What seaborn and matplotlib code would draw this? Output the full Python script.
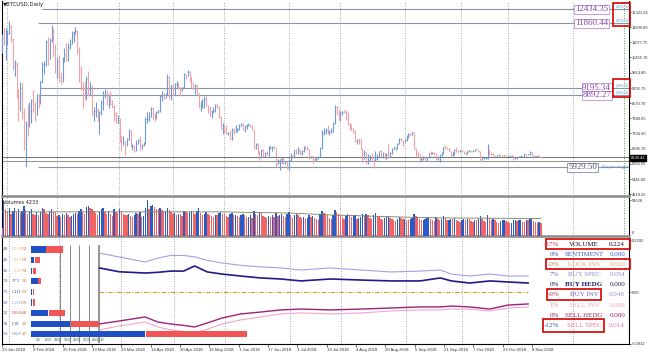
import numpy as np
import matplotlib
matplotlib.use("Agg")
import matplotlib.pyplot as plt
import seaborn as sns
from matplotlib.patches import Rectangle

# ---------------- data (BTCUSD daily, 23 Jan 2018 .. 13 Nov 2018) ----------------
first_open = 10850
close = [10900, 11250, 11100, 11100, 11450, 11750, 11200, 10100, 10200,
         9100, 8850, 9200, 8200, 6950, 7700, 7600, 8250, 8700, 8550, 8100, 8900, 8550, 9500, 10200, 10200, 11100, 10400, 11150, 11400, 10700, 9900, 10300, 9700, 9600, 10300, 10600, 10350,
         10900, 11000, 11450, 11500, 11550, 10750, 9950, 9300, 9200, 8800, 9550, 9150, 9150, 8200, 8250, 8300, 7900, 8200, 8600, 8900, 8900, 8700, 8900, 8550, 8450, 8150, 7800, 7950, 7100, 6850, 6950,
         6850, 7100, 7450, 6800, 6800, 6600, 6900, 7050, 6800, 6850, 6950, 7900, 7900, 8000, 8350, 8050, 7900, 8200, 8300, 8850, 8900, 8800, 8950, 9650, 8850, 9300, 8950, 9350, 9400, 9250,
         9100, 9250, 9750, 9700, 9850, 9650, 9350, 9200, 9300, 9000, 8450, 8500, 8700, 8700, 8500, 8350, 8100, 8250, 8250, 8500, 8400, 8000, 7550, 7600, 7480, 7350, 7350, 7100, 7470, 7400, 7500,
         7520, 7640, 7720, 7500, 7630, 7650, 7690, 7620, 7500, 6780, 6900, 6550, 6300, 6650, 6400, 6500, 6450, 6720, 6750, 6770, 6720, 6080, 6160, 6250, 6250, 6090, 6150, 5900, 6220, 6390,
         6360, 6620, 6500, 6600, 6530, 6600, 6760, 6700, 6670, 6300, 6390, 6250, 6240, 6270, 6360, 6740, 7320, 7380, 7470, 7350, 7400, 7400, 7720, 8400, 8170, 7940, 8200, 8220, 8210, 8180, 7730,
         7620, 7540, 7420, 7010, 7050, 6950, 6720, 6300, 6550, 6150, 6240, 6320, 6260, 6190, 6270, 6310, 6580, 6390, 6500, 6260, 6480, 6370, 6530, 6690, 6740, 6710, 6900, 7090, 7050, 6980, 7030,
         7200, 7300, 7270, 7370, 6700, 6530, 6420, 6200, 6250, 6320, 6290, 6330, 6500, 6490, 6530, 6500, 6250, 6350, 6400, 6500, 6770, 6720, 6700, 6600, 6430, 6460, 6650, 6640, 6600, 6630,
         6590, 6530, 6480, 6580, 6630, 6590, 6600, 6670, 6640, 6590, 6260, 6290, 6300, 6300, 6650, 6490, 6480, 6420, 6400, 6420, 6420, 6410, 6400, 6420, 6400, 6400, 6410, 6410, 6280, 6290, 6340,
         6380, 6400, 6370, 6480, 6430, 6460, 6540, 6420, 6350, 6380, 6400, 6370, 6330]
high = [11350, 11400, 11650, 11650, 11600, 11950, 11800, 11250, 10350,
        10250, 9150, 9450, 9400, 8350, 7850, 8550, 8600, 8750, 9100, 8600, 8950, 8950, 9500, 10250, 10300, 11150, 11300, 11250, 11800, 11650, 11000, 10450, 10550, 9850, 10450, 10850, 11050,
        11050, 11200, 11550, 11550, 11700, 11600, 10900, 10100, 9450, 9500, 9700, 9900, 9450, 9300, 8400, 8600, 8350, 8250, 8700, 9050, 9150, 9100, 8950, 9050, 8700, 8500, 8200, 8100, 7950, 7250, 7200,
        7000, 7150, 7500, 7450, 6900, 6850, 7050, 7100, 7200, 6900, 6950, 8000, 8200, 8200, 8400, 8400, 8150, 8250, 8300, 8900, 9050, 9000, 9000, 9750, 9700, 9300, 9350, 9400, 9500, 9450,
        9250, 9250, 9800, 9750, 9950, 9900, 9650, 9450, 9350, 9350, 9000, 8650, 8750, 8850, 8850, 8500, 8450, 8300, 8400, 8550, 8550, 8450, 8050, 7750, 7650, 7650, 7400, 7450, 7550, 7550, 7650,
        7550, 7700, 7770, 7750, 7660, 7700, 7750, 7700, 7680, 7500, 6920, 6920, 6600, 6700, 6660, 6550, 6590, 6800, 6820, 6800, 6800, 6730, 6250, 6250, 6350, 6300, 6200, 6150, 6270, 6500,
        6430, 6650, 6680, 6770, 6700, 6650, 6800, 6790, 6800, 6680, 6400, 6400, 6330, 6320, 6400, 6750, 7450, 7550, 7550, 7650, 7450, 7550, 7800, 8480, 8450, 8300, 8250, 8250, 8290, 8270, 8200,
        7750, 7720, 7550, 7480, 7080, 7150, 7150, 6730, 6620, 6570, 6480, 6450, 6520, 6270, 6600, 6480, 6600, 6620, 6560, 6520, 6500, 6880, 6550, 6720, 6800, 6780, 6920, 7120, 7150, 7060, 7080,
        7250, 7320, 7340, 7400, 7390, 6720, 6550, 6480, 6370, 6380, 6400, 6350, 6530, 6600, 6560, 6540, 6520, 6380, 6460, 6540, 6780, 6830, 6750, 6720, 6600, 6540, 6680, 6780, 6650, 6650,
        6650, 6600, 6540, 6600, 6650, 6640, 6620, 6700, 6680, 6650, 6600, 6310, 6320, 6350, 6900, 6700, 6500, 6500, 6450, 6430, 6460, 6430, 6420, 6440, 6420, 6420, 6420, 6420, 6420, 6300, 6350,
        6400, 6420, 6400, 6500, 6490, 6480, 6580, 6550, 6430, 6400, 6420, 6420, 6400]
low = [10350, 10650, 10950, 10350, 10950, 11400, 11100, 9950, 9700,
       8800, 7850, 8250, 7900, 6650, 5950, 7200, 7600, 7750, 8200, 7850, 8100, 8350, 8550, 9400, 9750, 10100, 10150, 10400, 11100, 10500, 9800, 9600, 9450, 9350, 9450, 10250, 10300,
       10300, 10800, 11000, 11100, 11400, 10600, 9450, 9100, 8350, 8750, 8700, 8850, 8900, 8050, 7850, 8000, 7850, 7300, 8100, 8300, 8800, 8500, 8350, 8500, 8350, 7850, 7750, 7750, 6950, 6600, 6850,
       6450, 6800, 7050, 6750, 6650, 6550, 6600, 6900, 6650, 6700, 6800, 6900, 7750, 7850, 8000, 7900, 7850, 7900, 8150, 8200, 8650, 8750, 8800, 8900, 8750, 8700, 8900, 8900, 9200, 9150,
       8850, 9050, 9200, 9550, 9700, 9450, 9200, 9150, 8950, 8950, 8350, 8250, 8350, 8350, 8450, 8150, 8050, 7950, 8150, 8200, 8350, 7950, 7450, 7300, 7350, 7300, 7250, 7100, 7050, 7300, 7400,
       7400, 7470, 7630, 7470, 7380, 7500, 7640, 7570, 7480, 6700, 6700, 6480, 6150, 6300, 6380, 6370, 6440, 6400, 6700, 6600, 6700, 5950, 6050, 5800, 6100, 6080, 6050, 5870, 5820, 6200,
       6300, 6300, 6480, 6460, 6450, 6450, 6550, 6680, 6650, 6280, 6300, 6100, 6150, 6200, 6250, 6350, 6680, 7250, 7300, 7300, 7250, 7350, 7380, 7700, 8080, 7880, 7850, 8100, 8150, 7880, 7650,
       7470, 7480, 7320, 6950, 6900, 6880, 6680, 6150, 6250, 6050, 6050, 6220, 6200, 5880, 6180, 6220, 6300, 6350, 6320, 6250, 6250, 6320, 6350, 6480, 6680, 6650, 6700, 6880, 7000, 6820, 6950,
       7020, 7150, 7200, 7250, 6700, 6350, 6380, 6170, 6150, 6240, 6220, 6200, 6320, 6420, 6480, 6430, 6220, 6240, 6130, 6380, 6490, 6690, 6670, 6580, 6350, 6400, 6420, 6570, 6520, 6560,
       6550, 6480, 6430, 6470, 6540, 6560, 6560, 6580, 6620, 6550, 6150, 6220, 6280, 6280, 6280, 6450, 6440, 6380, 6380, 6390, 6400, 6390, 6360, 6390, 6380, 6380, 6390, 6390, 6220, 6260, 6250,
       6330, 6370, 6340, 6330, 6400, 6420, 6450, 6400, 6330, 6340, 6350, 6360, 6320]
volume_k = [38, 13, 58, 44, 40, 46, 36, 42, 47,
            40, 45, 38, 42, 50, 43, 36, 41, 44, 37, 35, 39, 34, 40, 46, 44, 38, 36, 42, 45, 40, 39, 33, 35, 32, 36, 34, 38,
            35, 31, 33, 36, 38, 37, 42, 45, 40, 36, 48, 50, 46, 44, 41, 38, 35, 40, 44, 46, 39, 37, 42, 36, 33, 44, 40, 38, 45, 42, 37,
            35, 34, 37, 33, 32, 35, 38, 36, 40, 31, 33, 47, 60, 44, 49, 52, 48, 45, 44, 46, 43, 39, 41, 47, 43, 40, 36, 38, 35, 37,
            36, 33, 41, 40, 38, 40, 42, 38, 36, 41, 46, 38, 35, 37, 39, 36, 34, 33, 32, 35, 34, 38, 40, 37, 36, 33, 31, 36, 38, 34, 35,
            33, 32, 34, 36, 35, 31, 32, 34, 30, 42, 36, 34, 40, 38, 33, 31, 30, 33, 32, 34, 31, 38, 33, 35, 37, 33, 31, 36, 39, 35,
            30, 34, 36, 35, 32, 30, 31, 29, 30, 34, 31, 33, 30, 28, 27, 36, 42, 38, 36, 34, 30, 29, 35, 43, 39, 37, 35, 31, 29, 33, 36,
            34, 32, 33, 35, 28, 30, 31, 36, 33, 37, 34, 30, 29, 35, 38, 33, 32, 29, 27, 30, 31, 33, 30, 28, 26, 25, 29, 32, 30, 28, 29,
            27, 26, 28, 30, 36, 33, 31, 29, 26, 27, 28, 30, 32, 29, 26, 25, 31, 28, 27, 29, 33, 30, 26, 27, 29, 28, 30, 27, 25, 24,
            26, 28, 27, 29, 28, 25, 24, 27, 26, 28, 33, 29, 25, 24, 34, 30, 27, 28, 26, 24, 22, 25, 26, 27, 25, 24, 21, 22, 26, 27, 25,
            26, 27, 24, 23, 27, 26, 28, 29, 25, 23, 22, 24, 21]
vol_ma_day = [0, 60, 120, 158, 179, 217, 239, 294]
vol_ma_k = [40, 40, 40, 38, 35, 31.5, 30, 29]

date_labels = ["23 Jan 2018", "9 Feb 2018", "25 Feb 2018", "13 Mar 2018", "29 Mar 2018", "14 Apr 2018",
               "30 Apr 2018", "16 May 2018", "1 Jun 2018", "17 Jun 2018", "3 Jul 2018", "19 Jul 2018",
               "4 Aug 2018", "20 Aug 2018", "5 Sep 2018", "21 Sep 2018", "7 Oct 2018", "23 Oct 2018", "8 Nov 2018"]
date_label_day = [0, 17, 33, 49, 65, 81, 97, 113, 129, 145, 161, 177, 193, 209, 225, 241, 257, 273, 289]

price_ticks = [12321.85, 11699.80, 11077.75, 10455.70, 9814.80, 9192.75, 8570.70,
               7948.65, 7326.60, 6685.70, 6063.65, 5441.60, 4819.55]
levels = [12434.35, 11860.44, 9195.34, 8892.27, 5929.50]
current_price = 6330.42
second_line = 6205.0

ind_day = [53, 64, 78, 85, 92, 99, 105, 112, 120, 130, 141, 152, 163, 179, 196, 212, 228, 239, 245, 255, 266, 276, 287]
buy_spec = [0.222, 0.199, 0.171, 0.193, 0.208, 0.208, 0.200, 0.180, 0.165, 0.152, 0.143, 0.137, 0.125,
            0.137, 0.125, 0.114, 0.119, 0.125, 0.102, 0.091, 0.102, 0.091, 0.091]
buy_hedg = [0.137, 0.115, 0.108, 0.112, 0.119, 0.119, 0.148, 0.114, 0.102, 0.091, 0.080, 0.074, 0.063,
            0.074, 0.068, 0.063, 0.063, 0.080, 0.063, 0.051, 0.063, 0.057, 0.051]
sell_hedg = [-0.182, -0.165, -0.142, -0.171, -0.182, -0.190, -0.199, -0.176, -0.148, -0.125, -0.114, -0.102, -0.097,
             -0.102, -0.097, -0.091, -0.085, -0.085, -0.080, -0.085, -0.097, -0.074, -0.068]
sell_inv = [-0.216, -0.193, -0.171, -0.199, -0.216, -0.225, -0.233, -0.211, -0.182, -0.159, -0.142, -0.125, -0.119,
            -0.125, -0.119, -0.108, -0.102, -0.102, -0.097, -0.097, -0.108, -0.091, -0.085]

pair_names = ["EUR", "GBP", "AUD", "JPY", "CHF", "CAD", "NAS", "DJI", "S&P"]
pair_buy = [48, 40, 26, 74, 75, 50, 52, 58, 53]
pair_sell = [52, 60, 74, 26, 25, 50, 48, 42, 47]
pair_size = [31, 8, 4, 9, 2, 3, 33, 68, 216]
scale_labels = ["30", "200", "220", "350", "250", "200", "250", "30"]

table_pct = ["-27%", "0%", "-0%", "7%", "0%", "-9%", "1%", "0%", "-12%"]
table_names = ["VOLUME", "SENTIMENT", "LOCK INV", "BUY SPEC", "BUY HEDG", "BUY INV", "SELL INV", "SELL HEDG", "SELL SPEC"]
table_vals = ["0.224", "0.000", "0.020", "0.054", "0.000", "0.048", "0.088", "0.000", "0.014"]

assert len(close) == len(high) == len(low) == len(volume_k) == 295

# ---------------- layout helpers ----------------
W, H = 650, 356
PPD = 1.84
def fx(px): return px / W
def fy(py): return 1 - py / H
def day(px): return px / PPD
def ind_val(py): return (292 - py) * 0.00569

sns.set_theme(style="white")
plt.rcParams['font.family'] = ['DejaVu Sans']
SERIF = ['Liberation Serif', 'DejaVu Serif']
SANS = ['Liberation Sans', 'DejaVu Sans']
AX_FS = 2.9

fig = plt.figure(figsize=(6.5, 3.56), dpi=100)
fig.patch.set_facecolor('white')
ax_main = fig.add_axes([fx(2), fy(196), 627 / W, 195 / H])
ax_vol = fig.add_axes([fx(2), fy(236), 627 / W, 38 / H])
ax_ind = fig.add_axes([fx(2), fy(344), 627 / W, 106 / H])
xlim = (day(2), day(629))
for ax in (ax_main, ax_vol, ax_ind):
    ax.set_xlim(*xlim)
    ax.set_facecolor('white')
    for s in ('left', 'right'):
        ax.spines[s].set_color('black')
        ax.spines[s].set_linewidth(0.8)
    ax.spines['top'].set_visible(False)
    ax.spines['bottom'].set_color('#8a8a8a')
    ax.spines['bottom'].set_linewidth(1.8)
ax_ind.spines['bottom'].set_color('black')
ax_ind.spines['bottom'].set_linewidth(0.8)

# vertical dotted grid
grid_px = [7, 57, 119, 173, 224, 289, 340, 405, 461, 508, 573]
for ax in (ax_main, ax_vol, ax_ind):
    for gx in grid_px:
        ax.axvline(day(gx), color='#9a9a9a', ls=(0, (1.2, 1.8)), lw=0.6, zorder=0)
for ax in (ax_main, ax_vol):
    ax.axvline(day(624), color='#3c9a3c', ls=(0, (1.2, 1.8)), lw=0.6, zorder=0)

# ---------------- price panel ----------------
c = np.array(close, float)
o = np.array([first_open] + close[:-1], float)
hi = np.array(high, float)
lo = np.array(low, float)
d = np.arange(len(c))
up = c >= o
ax_main.vlines(d[up], lo[up], hi[up], color='#6f9ad8', lw=0.8, zorder=3)
ax_main.vlines(d[~up], lo[~up], hi[~up], color='#f2a2a6', lw=0.8, zorder=3)
ax_main.hlines(c[up], d[up], d[up] + 0.45, color='#6f9ad8', lw=0.6, zorder=3)
ax_main.hlines(c[~up], d[~up], d[~up] + 0.45, color='#f2a2a6', lw=0.6, zorder=3)
ax_main.set_ylim(4743.15, 12777.2)

level_start_px = [42, 38, 40, 40, 38]
label_right_px = [608, 608, 611, 611, 597]
for lvl, sx, rx in zip(levels, level_start_px, label_right_px):
    ax_main.hlines(lvl, day(sx), xlim[1], color='#8596a6', lw=0.8, zorder=2)
    is_target = lvl == levels[-1]
    ax_main.text(day(rx), lvl, f"{lvl:.2f}", ha='right', va='center', fontsize=6.3, family=SERIF,
                 color='#505070' if is_target else '#8a3fb0', zorder=6,
                 bbox=dict(boxstyle='square,pad=0.08', fc='white',
                           ec='#8090a0' if is_target else '#b890d8', lw=0.6))
ax_main.axhline(current_price, color='#707070', lw=0.7, zorder=2)
ax_main.axhline(second_line, color='#909090', lw=0.7, zorder=2)

ax_main.yaxis.tick_right()
ax_main.set_yticks(price_ticks)
ax_main.set_yticklabels([f"{v:.2f}" for v in price_ticks], family=SANS)
ax_main.tick_params(axis='y', right=True, left=False, length=1.5, width=0.5, pad=0.8,
                    labelsize=AX_FS, colors='#333333')
ax_main.tick_params(axis='x', bottom=False, labelbottom=False)

fig.text(fx(3), fy(4.5), "\u25BCBTCUSD,Daily", fontsize=3.9, color='#222222', va='center')
fig.text(fx(631), fy(158), f"{current_price:.2f}", fontsize=AX_FS, color='white', va='center', family=SANS,
         bbox=dict(boxstyle='square,pad=0.15', fc='black', ec='black'))
fig.text(fx(602), fy(166.5), "Buyers target", fontsize=3.2, color='#5a8ad0', va='center', family=SANS)
for (y0, y1) in [(3, 26), (79, 97)]:
    fig.add_artist(Rectangle((fx(613), fy(y1)), 17 / W, (y1 - y0) / H, fill=False,
                             ec='#d40000', lw=1.2, transform=fig.transFigure))
ys = [(7.5, 21.5), (86, 93)]
for (ya, yb), txt in zip(ys, ["40% S", "28% S"]):
    for yy in (ya, yb):
        fig.text(fx(621.5), fy(yy), txt, fontsize=3.0, color='#3aa0d0', ha='center', va='center', family=SANS)

# ---------------- volume panel ----------------
vol = np.array(volume_k, float)
vol_up = np.r_[True, vol[1:] > vol[:-1]]
vcols = np.where(vol_up, '#2a5cc8', '#f26464')
ax_vol.bar(d, vol, width=0.75, color=vcols, linewidth=0, zorder=3)
sns.lineplot(x=vol_ma_day, y=vol_ma_k, ax=ax_vol, color='#7d7d55', lw=0.6, zorder=4)
ax_vol.set_ylim(0, 63)
ax_vol.yaxis.tick_right()
ax_vol.set_yticks([59.628])
ax_vol.set_yticklabels(["59628"], family=SANS)
ax_vol.tick_params(axis='y', right=True, left=False, length=1.5, width=0.5, pad=0.8, labelsize=AX_FS, colors='#333333')
ax_vol.tick_params(axis='x', bottom=False, labelbottom=False)
ax_vol.set_xlabel(""); ax_vol.set_ylabel("")
fig.text(fx(3), fy(202), "Volumes 4233", fontsize=3.6, color='#222222', va='center')
fig.text(fx(632), fy(233), "0", fontsize=AX_FS, color='#333333', va='center', family=SANS)

# ---------------- indicator panel ----------------
ax_ind.set_ylim(ind_val(344), ind_val(238))
sns.lineplot(x=ind_day, y=buy_spec, ax=ax_ind, color='#a89ee0', lw=0.8, zorder=4)
sns.lineplot(x=ind_day, y=buy_hedg, ax=ax_ind, color='#1c1c8a', lw=1.2, zorder=4)
sns.lineplot(x=ind_day, y=sell_inv, ax=ax_ind, color='#f2a6cc', lw=0.8, zorder=4)
sns.lineplot(x=ind_day, y=sell_hedg, ax=ax_ind, color='#a0207a', lw=1.0, zorder=4)
ax_ind.hlines(0, ind_day[0], ind_day[-1], color='#b8aa30', ls=(0, (4, 1.5, 1, 1.5)), lw=0.8, zorder=3)

for vx in (58, 68, 77, 87):
    ax_ind.vlines(day(vx), ind_val(343), ind_val(245), color='#555555', lw=0.5, zorder=2)
ax_ind.vlines(day(97), ind_val(343), ind_val(245), color='#8a8a8a', lw=1.3, zorder=2)

bar_left = day(29)
row_py = [249.5 + 10.6 * i for i in range(len(pair_names))]
for i, (b, s, size) in enumerate(zip(pair_buy, pair_sell, pair_size)):
    yv = ind_val(row_py[i])
    wb = size * b / (b + s) / PPD
    ws = size * s / (b + s) / PPD
    ax_ind.barh(yv, wb, left=bar_left, height=0.036, color='#1f4fc4', linewidth=0, zorder=5)
    ax_ind.barh(yv, ws, left=bar_left + wb + 0.4, height=0.036, color='#f25555', linewidth=0, zorder=5)

name_cols = ['#f2c4a0', '#f2c4a0', '#f2c4a0', '#6a7ac0', '#6a7ac0', '#9a9ad8', '#e03030', '#5566aa', '#8a8aa0']
for i, (n, b, s) in enumerate(zip(pair_names, pair_buy, pair_sell)):
    yy = fy(row_py[i])
    fig.text(fx(3), yy, str(b), fontsize=3.9, color='#5566aa', va='center', family=SERIF)
    fig.text(fx(11.5), yy, n, fontsize=3.9, color=name_cols[i], va='center', family=SERIF)
    fig.text(fx(22), yy, str(s), fontsize=3.9, color='#e07040', va='center', family=SERIF)

for lab, sx in zip(scale_labels, [38, 48, 57, 67, 76, 86, 95.5, 102]):
    fig.text(fx(sx), fy(340), lab, fontsize=3.0, color='#334466', ha='center', va='center', family=SANS)

ax_ind.yaxis.tick_right()
ax_ind.set_yticks([0.2932, 0.0, -0.2932])
ax_ind.set_yticklabels(["0.2932", "0.00", "-0.2932"], family=SANS)
ax_ind.tick_params(axis='y', right=True, left=False, length=1.5, width=0.5, pad=0.8, labelsize=AX_FS, colors='#333333')
ax_ind.set_xticks(date_label_day)
ax_ind.set_xticklabels(date_labels, family=SANS)
for lbl in ax_ind.get_xticklabels():
    lbl.set_horizontalalignment('left')
ax_ind.tick_params(axis='x', bottom=True, length=2, width=0.5, pad=1.2, labelsize=3.1, colors='#333333')
ax_ind.set_xlabel(""); ax_ind.set_ylabel("")

# right-side table
pct_cols = ['#c03a3a', '#3050b0', '#c07040', '#6070c0', '#151560', '#a03050', '#e08898', '#a02060', '#3050b0']
nm_cols = ['#101010', '#3a58b8', '#d4a86a', '#8c8cd4', '#151560', '#6e62c4', '#f0a4bc', '#a02060', '#e472a8']
val_cols = ['#101010', '#3a58b8', '#d4a86a', '#8c8cd4', '#151560', '#9a92d8', '#f0a4bc', '#a02060', '#e472a8']
for i, (p, n, v) in enumerate(zip(table_pct, table_names, table_vals)):
    yy = fy(244 + 10.2 * i)
    fig.text(fx(559), yy, p, fontsize=5, color=pct_cols[i], ha='right', va='center', family=SERIF)
    fig.text(fx(584), yy, n, fontsize=5, color=nm_cols[i], ha='center', va='center', family=SERIF,
             fontweight='bold' if n == 'BUY HEDG' else 'normal')
    fig.text(fx(625), yy, v, fontsize=5, color=val_cols[i], ha='right', va='center', family=SERIF)
for (x0, y0, x1, y1) in [(546, 239, 630, 249), (546, 259, 630, 269), (547, 289, 601, 300), (543, 319, 604, 332)]:
    fig.add_artist(Rectangle((fx(x0), fy(y1)), (x1 - x0) / W, (y1 - y0) / H, fill=False,
                             ec='#d40000', lw=1.2, transform=fig.transFigure))

fig.savefig("out.png", dpi=100, facecolor='white')
